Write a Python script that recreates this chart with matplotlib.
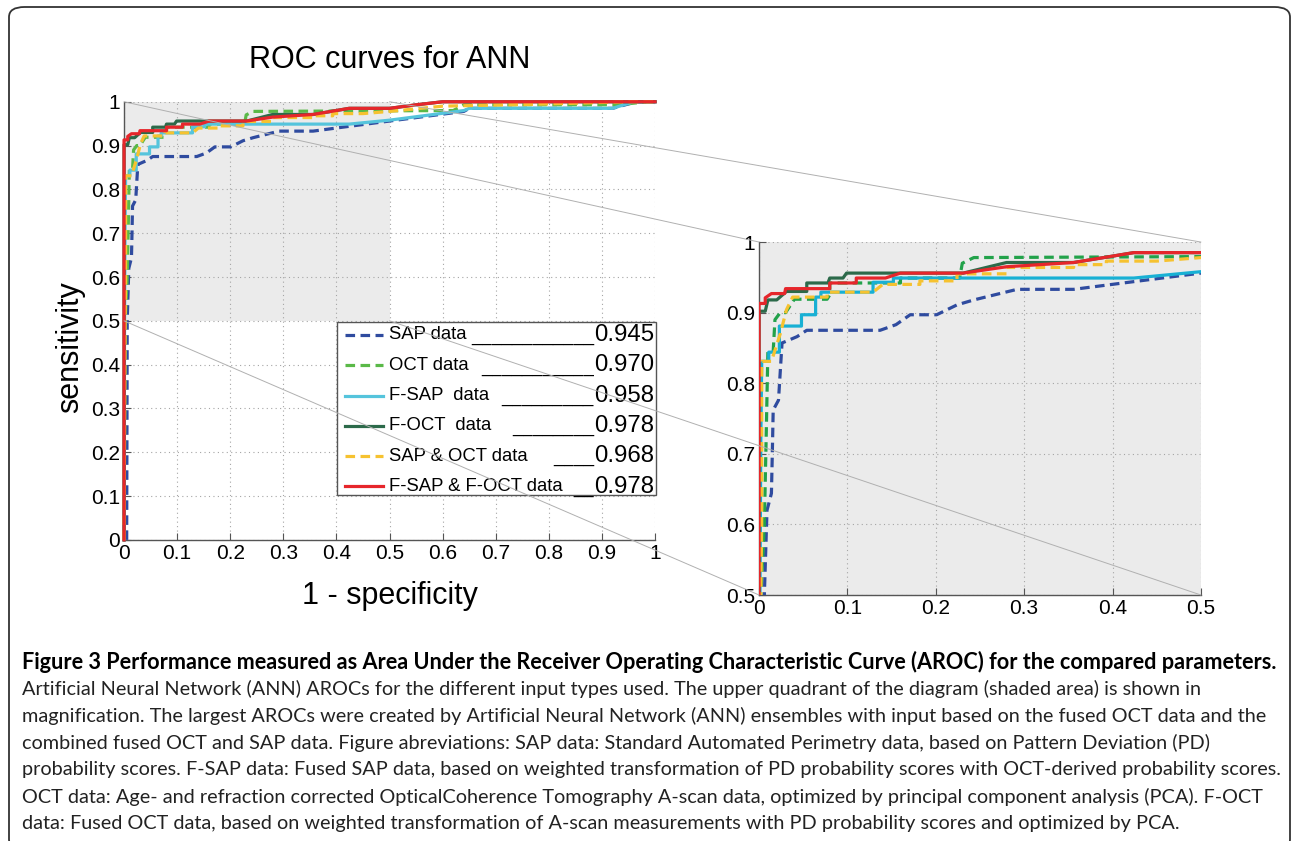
import matplotlib
matplotlib.use("Agg")
import matplotlib.pyplot as plt
from matplotlib.patches import Rectangle, FancyBboxPatch, ConnectionPatch

plt.rcParams['font.family'] = ['Liberation Sans', 'DejaVu Sans']

# ROC curves (x = 1 - specificity, y = sensitivity)
sap_x = [0.005, 0.006, 0.009, 0.014, 0.015, 0.016, 0.022, 0.026, 0.043, 0.054, 0.137, 0.155, 0.171,
         0.201, 0.224, 0.243, 0.292, 0.356, 0.412, 0.5, 0.64, 0.65, 0.92, 0.965, 1.0]
sap_y = [0.0, 0.5, 0.62, 0.644, 0.70, 0.762, 0.776, 0.857, 0.866, 0.875, 0.875, 0.883, 0.897,
         0.897, 0.911, 0.918, 0.933, 0.933, 0.942, 0.956, 0.978, 0.985, 0.985, 1.0, 1.0]

oct_x = [0.0, 0.002, 0.006, 0.008, 0.010, 0.016, 0.018, 0.024, 0.030, 0.040, 0.077, 0.080, 0.080,
         0.160, 0.160, 0.227, 0.230, 0.243, 0.62, 0.64, 0.93, 0.985, 1.0]
oct_y = [0.0, 0.5, 0.6, 0.72, 0.845, 0.845, 0.89, 0.90, 0.90, 0.919, 0.919, 0.925, 0.942,
         0.942, 0.949, 0.949, 0.970, 0.978, 0.980, 0.993, 0.993, 1.0, 1.0]

fsap_x = [0.0, 0.001, 0.002, 0.003, 0.011, 0.011, 0.023, 0.023, 0.048, 0.048, 0.064, 0.064, 0.070,
          0.070, 0.129, 0.129, 0.152, 0.152, 0.424, 0.5, 0.64, 0.65, 0.92, 0.96, 1.0]
fsap_y = [0.0, 0.5, 0.72, 0.831, 0.831, 0.844, 0.844, 0.881, 0.881, 0.897, 0.897, 0.922, 0.922,
          0.929, 0.929, 0.943, 0.943, 0.949, 0.949, 0.958, 0.980, 0.985, 0.985, 1.0, 1.0]

foct_x = [0.0, 0.0, 0.007, 0.010, 0.020, 0.031, 0.054, 0.054, 0.078, 0.080, 0.095, 0.099, 0.231,
          0.280, 0.356, 0.424, 0.5, 0.55, 0.6, 1.0]
foct_y = [0.0, 0.902, 0.902, 0.918, 0.918, 0.930, 0.930, 0.942, 0.942, 0.949, 0.949, 0.956, 0.956,
          0.971, 0.971, 0.985, 0.985, 0.993, 1.0, 1.0]

sapoct_x = [0.0, 0.002, 0.003, 0.003, 0.014, 0.024, 0.031, 0.038, 0.077, 0.077, 0.129, 0.140, 0.182,
            0.182, 0.224, 0.224, 0.280, 0.280, 0.356, 0.356, 0.393, 0.393, 0.45, 0.5, 0.6, 0.8, 0.95, 1.0]
sapoct_y = [0.0, 0.5, 0.6, 0.831, 0.831, 0.870, 0.904, 0.922, 0.922, 0.929, 0.929, 0.940, 0.940,
            0.945, 0.945, 0.955, 0.955, 0.964, 0.964, 0.968, 0.968, 0.973, 0.973, 0.978, 0.990, 0.995, 1.0, 1.0]

both_x = [0.0, 0.0, 0.007, 0.007, 0.014, 0.029, 0.030, 0.080, 0.080, 0.110, 0.110, 0.143, 0.160,
          0.231, 0.280, 0.356, 0.424, 0.5, 0.55, 0.6, 1.0]
both_y = [0.0, 0.913, 0.913, 0.921, 0.927, 0.927, 0.934, 0.934, 0.942, 0.942, 0.949, 0.949, 0.956,
          0.956, 0.965, 0.971, 0.985, 0.985, 0.993, 1.0, 1.0]

names = ['SAP data', 'OCT data', 'F-SAP  data', 'F-OCT  data', 'SAP & OCT data', 'F-SAP & F-OCT data']
aroc = ['0.945', '0.970', '0.958', '0.978', '0.968', '0.978']
underscores = [12, 11, 9, 8, 4, 2]

curves = [(sap_x, sap_y), (oct_x, oct_y), (fsap_x, fsap_y),
          (foct_x, foct_y), (sapoct_x, sapoct_y), (both_x, both_y)]
styles = [dict(color='#2f4b9f', ls=(0, (3, 1.7))),
          dict(color='#5ab948', ls=(0, (3, 1.7))),
          dict(color='#55c4dc', ls='-'),
          dict(color='#2c6a4a', ls='-'),
          dict(color='#f6c230', ls=(0, (3, 1.7))),
          dict(color='#e6262b', ls='-')]
inset_colors = ['#2f4b9f', '#22a24a', '#18b0d4', '#2c6a4a', '#f6c230', '#e6262b']

fig = plt.figure(figsize=(12.92, 8.41), dpi=100, facecolor='white')

ax = fig.add_axes([0.096, 0.358, 0.411, 0.521])
ins = fig.add_axes([0.5875, 0.2925, 0.342, 0.4197])


def style_axes(a, bg):
    a.set_facecolor(bg)
    for s in ['top', 'right']:
        a.spines[s].set_visible(False)
    for s in ['left', 'bottom']:
        a.spines[s].set_color('#555555')
        a.spines[s].set_linewidth(1.0)
    a.tick_params(direction='in', length=5, width=0.8, color='#555555', labelsize=15, pad=3)
    a.grid(True, ls=(0, (1, 3)), color='#a5a5a5', lw=0.8)
    a.set_axisbelow(True)


style_axes(ax, 'white')
ax.add_patch(Rectangle((0, 0.5), 0.5, 0.5, facecolor='#ebebeb', edgecolor='none', zorder=0))
for (cx, cy), st in zip(curves, styles):
    ax.plot(cx, cy, lw=2.3, clip_on=False, zorder=3, **st)
ax.set_xlim(0, 1)
ax.set_ylim(0, 1)
ticks = [i / 10 for i in range(11)]
tlabels = ['0'] + ['%.1f' % t for t in ticks[1:-1]] + ['1']
ax.set_xticks(ticks)
ax.set_xticklabels(tlabels)
ax.set_yticks(ticks)
ax.set_yticklabels(tlabels)
ax.set_title('ROC curves for ANN', fontsize=22, pad=24)
ax.set_xlabel('1 - specificity', fontsize=22, labelpad=13)
ax.set_ylabel('sensitivity', fontsize=22)
ax.yaxis.set_label_coords(-0.073, 0.44)

# legend box drawn by hand so the AROC values can sit at the right edge
ax.add_patch(Rectangle((0.401, 0.103), 0.601, 0.395, facecolor='white', edgecolor='#555555',
                       lw=1.0, zorder=5, clip_on=False))
row_top, row_step = 0.468, 0.0692
for i, (nm, val, nu) in enumerate(zip(names, aroc, underscores)):
    yy = row_top - i * row_step
    ax.plot([0.416, 0.488], [yy, yy], lw=2.3, zorder=6, clip_on=False, **styles[i])
    ax.text(0.499, yy, nm, fontsize=13.3, va='center', ha='left', zorder=7)
    ax.text(0.885, yy - 0.014, '_' * nu, fontsize=13.3, va='baseline', ha='right', zorder=7)
    ax.text(0.998, yy - 0.014, val, fontsize=17.3, va='baseline', ha='right', zorder=7)

# magnified upper quadrant
style_axes(ins, '#ebebeb')
for (cx, cy), st, c in zip(curves, styles, inset_colors):
    ins.plot(cx, cy, lw=2.3, zorder=3, **dict(st, color=c))
ins.set_xlim(0, 0.5)
ins.set_ylim(0.5, 1)
ins.set_xticks(ticks[:6])
ins.set_xticklabels(['0', '0.1', '0.2', '0.3', '0.4', '0.5'])
ins.set_yticks(ticks[5:])
ins.set_yticklabels(['0.5', '0.6', '0.7', '0.8', '0.9', '1'])

for p in [(0, 1), (0.5, 1), (0, 0.5), (0.5, 0.5)]:
    con = ConnectionPatch(xyA=p, coordsA=ax.transData, xyB=p, coordsB=ins.transData,
                          color='#b0b0b0', lw=0.7, zorder=20)
    fig.add_artist(con)

# rounded frame of the figure panel
fig.add_artist(FancyBboxPatch((9 / 1292, -0.01), 1 - 11 / 1292, 1 - 7 / 841 + 0.01,
                              boxstyle='round,pad=0,rounding_size=0.012',
                              transform=fig.transFigure, facecolor='none',
                              edgecolor='#333333', lw=1.3, clip_on=False))

cap_font = ['Lato', 'Open Sans', 'DejaVu Sans']
head = fig.text(22 / 1292, 1 - 662 / 841,
                'Figure 3 Performance measured as Area Under the Receiver Operating Characteristic Curve (AROC) for the compared parameters.',
                family=cap_font, fontsize=15, fontweight='bold', va='center', ha='left')
cap_lines = [
    'Artificial Neural Network (ANN) AROCs for the different input types used. The upper quadrant of the diagram (shaded area) is shown in',
    'magnification. The largest AROCs were created by Artificial Neural Network (ANN) ensembles with input based on the fused OCT data and the',
    'combined fused OCT and SAP data. Figure abreviations: SAP data: Standard Automated Perimetry data, based on Pattern Deviation (PD)',
    'probability scores. F-SAP data: Fused SAP data, based on weighted transformation of PD probability scores with OCT-derived probability scores.',
    'OCT data: Age- and refraction corrected OpticalCoherence Tomography A-scan data, optimized by principal component analysis (PCA). F-OCT',
    'data: Fused OCT data, based on weighted transformation of A-scan measurements with PD probability scores and optimized by PCA.',
]
cap_texts = []
for i, line in enumerate(cap_lines):
    cap_texts.append(fig.text(22 / 1292, 1 - (689 + 27 * i) / 841, line, family=cap_font,
                              fontsize=15, va='center', ha='left', color='#222222'))

# the caption font in the reference is condensed: size the text to the same line width
renderer = fig.canvas.get_renderer()
w = head.get_window_extent(renderer).width
head.set_fontsize(15 * 1258 / w)
w = cap_texts[3].get_window_extent(renderer).width
for t in cap_texts:
    t.set_fontsize(15 * 1258 / w)

fig.savefig('out.png', dpi=100)
